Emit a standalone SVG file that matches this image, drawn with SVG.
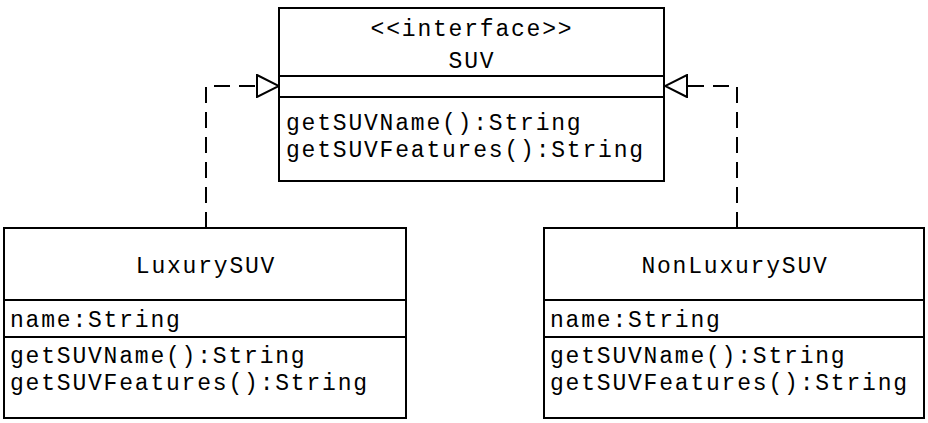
<svg xmlns="http://www.w3.org/2000/svg" width="928" height="423" viewBox="0 0 928 423">
<style>
.box{fill:#fff;stroke:#000;stroke-width:2}
.ln{stroke:#000;stroke-width:2}
.t{font-family:"Liberation Mono","Courier New",monospace;font-size:23px;letter-spacing:1.8px;fill:#000}
.c{text-anchor:middle}
.conn{fill:none;stroke:#000;stroke-width:2;stroke-dasharray:16 9}
</style>
<defs>
<marker id="tri" viewBox="0 0 24 24" refX="23" refY="12" markerWidth="24" markerHeight="24" markerUnits="userSpaceOnUse" orient="auto">
<path d="M1,1 L23,12 L1,23 Z" fill="#fff" stroke="#000" stroke-width="2"/>
</marker>
</defs>
<rect width="928" height="423" fill="#fff"/>
<g id="connectors">
<path class="conn" d="M206,228 V86 H279" marker-end="url(#tri)"/>
<path class="conn" d="M737,228 V86 H665" marker-end="url(#tri)"/>
</g>
<g id="SUV">
<rect class="box" x="279" y="8" width="385" height="173"/>
<line class="ln" x1="279" y1="76" x2="664" y2="76"/>
<line class="ln" x1="279" y1="97" x2="664" y2="97"/>
<text class="t c" x="472" y="36">&lt;&lt;interface&gt;&gt;</text>
<text class="t c" x="472" y="68">SUV</text>
<text class="t" x="286" y="130">getSUVName():String</text>
<text class="t" x="286" y="157">getSUVFeatures():String</text>
</g>
<g id="LuxurySUV">
<rect class="box" x="4" y="228" width="402" height="190"/>
<line class="ln" x1="4" y1="300" x2="406" y2="300"/>
<line class="ln" x1="4" y1="337" x2="406" y2="337"/>
<text class="t c" x="206" y="273">LuxurySUV</text>
<text class="t" x="10" y="327">name:String</text>
<text class="t" x="10" y="363">getSUVName():String</text>
<text class="t" x="10" y="390">getSUVFeatures():String</text>
</g>
<g id="NonLuxurySUV">
<rect class="box" x="544" y="228" width="380" height="190"/>
<line class="ln" x1="544" y1="300" x2="924" y2="300"/>
<line class="ln" x1="544" y1="337" x2="924" y2="337"/>
<text class="t c" x="735" y="273">NonLuxurySUV</text>
<text class="t" x="550" y="327">name:String</text>
<text class="t" x="550" y="363">getSUVName():String</text>
<text class="t" x="550" y="390">getSUVFeatures():String</text>
</g>
</svg>
